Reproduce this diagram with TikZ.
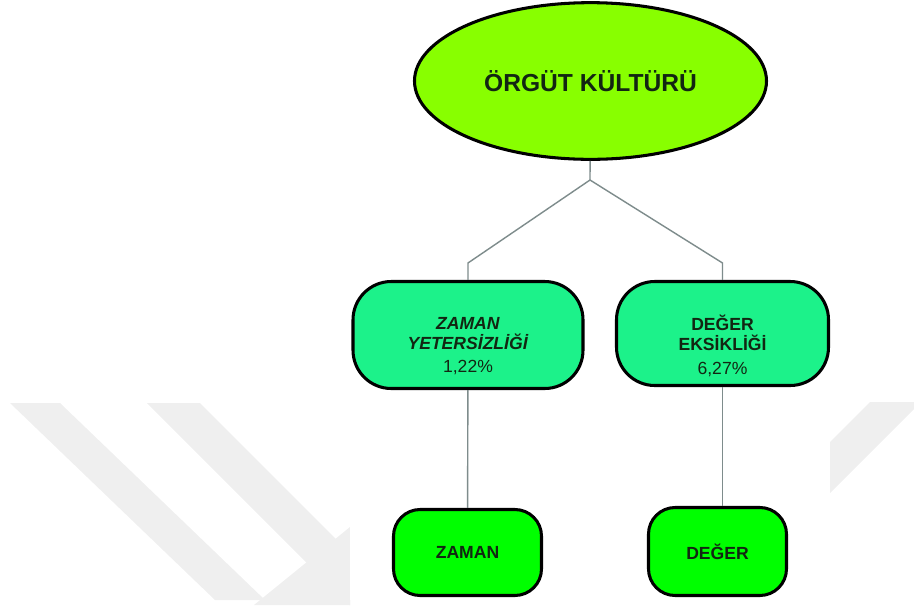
\documentclass[tikz,border=0pt]{standalone}
\usepackage{fontspec}
\setmainfont{Liberation Sans}
\usepackage{tikz}
\usetikzlibrary{shapes.geometric}

\definecolor{rootgreen}{HTML}{88FF00}
\definecolor{midgreen}{HTML}{1CF28A}
\definecolor{leafgreen}{HTML}{00FF00}
\definecolor{inkgreen}{HTML}{122612}
\definecolor{linkgray}{HTML}{7E8C8C}
\definecolor{markgray}{HTML}{EFEFEF}

\begin{document}
\begin{tikzpicture}[
    x=0.03cm, y=-0.03cm,
    every node/.style={font=\fontsize{15}{17}\selectfont, text=inkgreen},
    root/.style={ellipse, draw=black, fill=rootgreen, line width=2.6pt, minimum width=10.56cm, minimum height=4.7cm, font=\fontsize{21}{25}\selectfont\bfseries},
    midbox/.style={rectangle, draw=black, fill=midgreen, line width=2.6pt, rounded corners=1.15cm},
    leafbox/.style={rectangle, draw=black, fill=leafgreen, line width=2.6pt, rounded corners=0.8cm, font=\fontsize{15}{17}\selectfont\bfseries},
    boxtext/.style={align=center, inner sep=0pt},
    link/.style={draw=linkgray, line width=1.2pt},
    wmark/.style={fill=markgray, draw=none}
]
\useasboundingbox (0,0) rectangle (914,605);

% Faint watermark behind the diagram
\path[wmark] (10,403) -- (60,403) -- (265,600) -- (215,600) -- cycle;
\path[wmark] (147,403) -- (200,403) -- (350,553) -- (350,605) -- (349,605) -- cycle;
\path[wmark] (254,605) -- (350,527) -- (350,605) -- cycle;
\path[wmark] (828,444) -- (870,402) -- (914,402) -- (914,409) -- (828,495) -- cycle;
\fill[white] (350,0) rectangle (830,600);

% Root
\node[root] (orgut) at (590.5,81) {ÖRGÜT KÜLTÜRÜ};

% Second level
\node[midbox, minimum width=6.9cm, minimum height=3.21cm] (zamany) at (468,335) {};
\node[boxtext] (zamanyt) at (468,346) {\textbf{\textit{ZAMAN}}\\\textbf{\textit{YETERSİZLİĞİ}}\\[3pt]1,22\%};
\node[midbox, minimum width=6.36cm, minimum height=3.12cm] (degere) at (722.5,333.5) {};
\node[boxtext] (degeret) at (722.5,346) {\textbf{DEĞER}\\\textbf{EKSİKLİĞİ}\\[3pt]6,27\%};

% Third level
\node[leafbox, minimum width=4.44cm, minimum height=2.58cm] (zaman) at (467.5,552.5) {ZAMAN};
\node[leafbox, minimum width=4.14cm, minimum height=2.64cm] (deger) at (717.5,551.5) {DEĞER};

% Links
\coordinate (split) at (590,180);
\draw[link] (orgut) -- (split);
\draw[link] (split) -- ([yshift=0.51cm]zamany.north) -- (zamany);
\draw[link] (split) -- ([yshift=0.51cm]degere.north) -- (degere);
\draw[link] (zamany) -- (zaman);
\draw[link] (degere.south) -- (degere.south |- deger.north);

\end{tikzpicture}
\end{document}
